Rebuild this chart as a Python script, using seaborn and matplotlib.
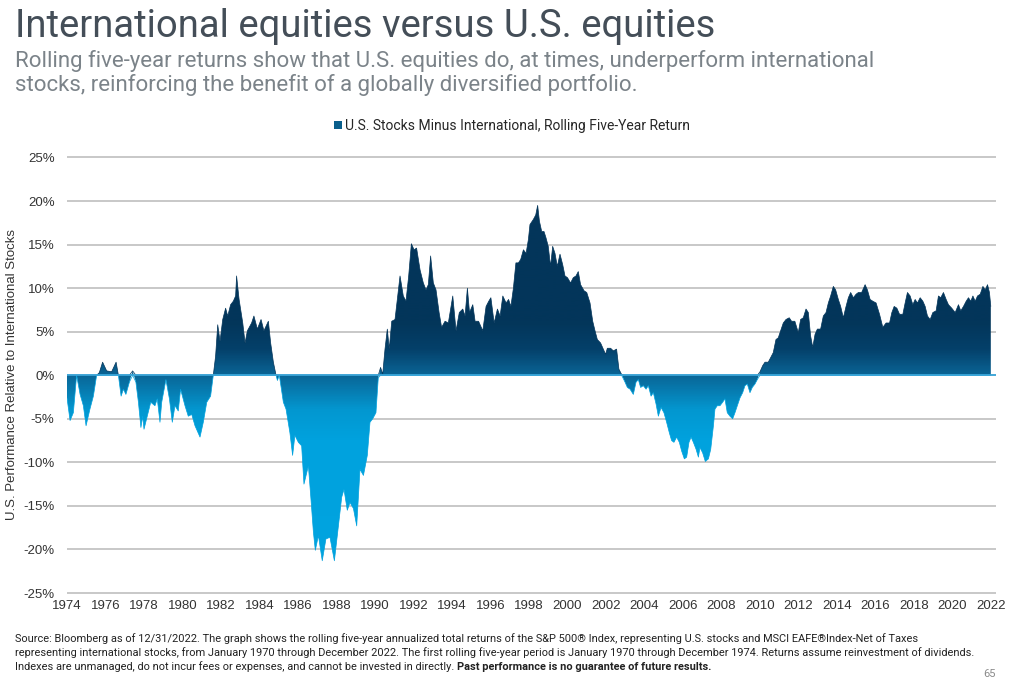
import numpy as np
import pandas as pd
import matplotlib
matplotlib.use("Agg")
import matplotlib.pyplot as plt
import seaborn as sns
from matplotlib.colors import LinearSegmentedColormap, Normalize
from matplotlib.patches import Polygon, Patch
from matplotlib.ticker import FuncFormatter

# Rolling five-year return, U.S. minus international (%)
dates = [
    1974.00, 1974.16, 1974.33, 1974.50, 1974.68, 1974.85, 1974.99, 1975.19, 1975.37, 1975.54,
    1975.68, 1975.85, 1976.06, 1976.32, 1976.55, 1976.67, 1976.81, 1976.93, 1977.06, 1977.24,
    1977.41, 1977.58, 1977.71, 1977.84, 1977.93, 1978.00, 1978.17, 1978.35, 1978.57, 1978.69,
    1978.83, 1978.92, 1979.14, 1979.32, 1979.47, 1979.61, 1979.78, 1979.90, 1980.13, 1980.30,
    1980.48, 1980.65, 1980.91, 1981.08, 1981.26, 1981.46, 1981.60, 1981.72, 1981.83, 1981.95,
    1982.09, 1982.24, 1982.35, 1982.50, 1982.64, 1982.76, 1982.81, 1982.94, 1983.13, 1983.25,
    1983.37, 1983.59, 1983.71, 1983.89, 1984.08, 1984.23, 1984.46, 1984.58, 1984.72, 1984.86,
    1984.93, 1985.03, 1985.24, 1985.38, 1985.58, 1985.72, 1985.84, 1986.02, 1986.19, 1986.31,
    1986.54, 1986.68, 1986.80, 1986.90, 1987.06, 1987.26, 1987.45, 1987.66, 1987.89, 1988.10,
    1988.27, 1988.39, 1988.56, 1988.70, 1988.88, 1989.05, 1989.22, 1989.40, 1989.60, 1989.74,
    1989.88, 1990.05, 1990.17, 1990.29, 1990.40, 1990.52, 1990.64, 1990.74, 1990.87, 1991.04,
    1991.16, 1991.30, 1991.47, 1991.61, 1991.75, 1991.89, 1992.03, 1992.16, 1992.34, 1992.51,
    1992.65, 1992.77, 1992.89, 1993.03, 1993.17, 1993.33, 1993.46, 1993.64, 1993.81, 1994.04,
    1994.21, 1994.38, 1994.56, 1994.68, 1994.80, 1994.91, 1995.08, 1995.20, 1995.38, 1995.60,
    1995.77, 1995.91, 1996.02, 1996.19, 1996.36, 1996.50, 1996.64, 1996.81, 1996.94, 1997.06,
    1997.19, 1997.32, 1997.45, 1997.57, 1997.71, 1997.85, 1997.97, 1998.05, 1998.23, 1998.35,
    1998.45, 1998.54, 1998.66, 1998.78, 1998.88, 1999.00, 1999.12, 1999.23, 1999.35, 1999.47,
    1999.61, 1999.75, 1999.87, 2000.00, 2000.16, 2000.30, 2000.44, 2000.56, 2000.68, 2000.86,
    2001.00, 2001.17, 2001.31, 2001.43, 2001.55, 2001.72, 2001.86, 2001.98, 2002.07, 2002.24,
    2002.38, 2002.55, 2002.67, 2002.81, 2002.99, 2003.11, 2003.25, 2003.42, 2003.56, 2003.68,
    2003.80, 2003.94, 2004.08, 2004.20, 2004.34, 2004.46, 2004.60, 2004.72, 2004.86, 2005.01,
    2005.15, 2005.29, 2005.41, 2005.53, 2005.67, 2005.81, 2005.93, 2006.07, 2006.19, 2006.31,
    2006.42, 2006.54, 2006.68, 2006.80, 2006.88, 2007.02, 2007.16, 2007.32, 2007.44, 2007.58,
    2007.66, 2007.78, 2007.92, 2008.06, 2008.18, 2008.30, 2008.44, 2008.58, 2008.70, 2008.82,
    2008.96, 2009.10, 2009.22, 2009.34, 2009.48, 2009.60, 2009.74, 2009.86, 2010.00, 2010.14,
    2010.26, 2010.43, 2010.55, 2010.69, 2010.83, 2010.95, 2011.07, 2011.21, 2011.35, 2011.52,
    2011.64, 2011.81, 2011.99, 2012.11, 2012.25, 2012.39, 2012.51, 2012.63, 2012.74, 2012.86,
    2012.98, 2013.15, 2013.29, 2013.43, 2013.55, 2013.67, 2013.81, 2013.93, 2014.07, 2014.19,
    2014.33, 2014.47, 2014.59, 2014.71, 2014.85, 2014.99, 2015.11, 2015.28, 2015.46, 2015.58,
    2015.72, 2015.86, 2016.03, 2016.21, 2016.38, 2016.55, 2016.73, 2016.85, 2016.97, 2017.11,
    2017.25, 2017.42, 2017.54, 2017.66, 2017.80, 2017.94, 2018.06, 2018.18, 2018.32, 2018.46,
    2018.58, 2018.70, 2018.84, 2018.98, 2019.15, 2019.27, 2019.39, 2019.53, 2019.67, 2019.79,
    2019.96, 2020.14, 2020.31, 2020.43, 2020.57, 2020.71, 2020.83, 2020.95, 2021.06, 2021.18,
    2021.30, 2021.44, 2021.58, 2021.70, 2021.82, 2021.92, 2021.99,
]
spread = [
    -2.6, -5.2, -4.3, 0.0, -2.2, -3.5, -5.8, -3.9, -2.4, 0.0,
    0.3, 1.5, 0.5, 0.4, 1.5, 0.0, -2.4, -1.6, -2.2, -0.8,
    0.5, -0.8, -3.1, -6.0, -4.7, -6.2, -4.7, -3.1, -3.5, -2.7,
    -5.4, -3.1, -0.5, -2.7, -5.4, -3.5, -4.1, -1.6, -3.5, -4.7,
    -4.5, -5.8, -7.1, -5.4, -3.1, -2.4, 0.0, 2.2, 5.8, 3.9,
    6.4, 7.7, 6.8, 8.1, 8.5, 9.1, 11.4, 8.7, 6.0, 3.7,
    5.1, 6.0, 6.8, 5.3, 6.4, 5.1, 6.2, 3.7, 1.5, 0.0,
    -0.6, 0.0, -3.1, -3.9, -6.6, -9.2, -6.9, -7.7, -8.1, -12.5,
    -10.4, -14.4, -18.0, -20.1, -18.4, -21.3, -18.8, -18.6, -21.3, -17.3,
    -14.0, -13.1, -15.5, -14.6, -15.3, -17.3, -10.8, -11.5, -9.2, -5.4,
    -5.0, -4.3, -0.3, 0.9, 0.1, 3.0, 5.3, 3.0, 6.2, 6.4,
    8.7, 11.4, 9.1, 8.5, 11.4, 15.1, 14.4, 14.6, 12.1, 10.6,
    9.8, 10.4, 13.7, 10.6, 9.8, 7.2, 5.5, 6.2, 6.0, 9.1,
    5.1, 7.2, 7.6, 6.8, 10.0, 7.2, 8.1, 6.2, 6.2, 5.1,
    7.9, 8.5, 8.9, 6.0, 7.6, 6.8, 9.1, 8.3, 8.7, 7.9,
    10.0, 12.9, 12.9, 13.3, 14.4, 14.0, 15.6, 17.3, 17.9, 18.4,
    19.5, 17.7, 16.5, 16.5, 15.8, 14.8, 12.5, 14.8, 14.0, 12.5,
    13.9, 12.7, 11.4, 11.2, 10.6, 11.2, 11.4, 11.9, 10.4, 9.7,
    9.5, 8.3, 6.2, 5.1, 4.1, 3.7, 3.0, 2.4, 3.1, 3.1,
    2.8, 3.0, 0.7, 0.1, -0.8, -1.4, -1.6, -2.2, -0.8, -0.5,
    -1.4, -1.2, -1.6, -1.2, -2.4, -2.0, -3.3, -4.7, -3.7, -4.3,
    -5.4, -6.6, -7.5, -7.7, -7.1, -7.7, -8.7, -9.6, -9.4, -7.7,
    -7.1, -7.7, -8.5, -9.4, -8.3, -8.9, -9.9, -9.6, -8.5, -5.8,
    -3.9, -3.5, -3.5, -3.1, -2.7, -4.3, -4.7, -5.0, -4.3, -3.5,
    -2.6, -2.0, -1.2, -1.0, -2.0, -1.4, -1.0, -0.5, 0.4, 1.1,
    1.5, 1.5, 2.0, 2.6, 4.1, 4.3, 5.1, 6.0, 6.4, 6.6,
    6.2, 6.2, 4.9, 6.4, 6.6, 7.6, 7.2, 4.5, 3.2, 4.7,
    5.3, 5.3, 6.8, 7.2, 8.3, 9.1, 10.2, 9.8, 8.7, 7.9,
    6.6, 7.9, 8.9, 9.5, 8.9, 9.3, 9.5, 9.5, 10.4, 9.8,
    8.7, 8.5, 8.3, 7.0, 5.5, 6.0, 6.0, 7.2, 7.9, 7.7,
    7.0, 7.0, 8.3, 9.5, 9.1, 8.1, 8.7, 8.3, 8.9, 8.5,
    7.9, 6.8, 6.4, 7.2, 7.4, 9.1, 8.9, 9.5, 8.7, 8.1,
    7.7, 7.2, 8.1, 7.4, 7.9, 8.5, 8.9, 8.5, 9.1, 8.5,
    9.1, 9.3, 10.2, 9.8, 10.4, 9.5, 7.9,
]
year_ticks = list(range(1974, 2023, 2))
pct_ticks = list(range(-25, 30, 5))

df = pd.DataFrame({"date": dates, "spread": spread})

sns.set_style("white")
plt.rcParams["font.family"] = ["Liberation Sans", "DejaVu Sans"]
narrow = ["Liberation Sans Narrow", "Roboto", "DejaVu Sans"]

fig = plt.figure(figsize=(10.24, 6.86), dpi=100)
ax = fig.add_axes([67 / 1024, 1 - 594.5 / 686, 929 / 1024, 438.5 / 686])

x = df["date"].to_numpy()
y = df["spread"].to_numpy()
x_end = 1974 + 929 / 19.25

# gradient fill clipped to the area between the series and zero
cmap = LinearSegmentedColormap.from_list("fill", [
    (0.0, "#00a4e0"), (0.35, "#00a2de"), (0.42, "#0397d0"), (0.5, "#0a6596"),
    (0.56, "#04406a"), (0.62, "#03365a"), (1.0, "#03355a")])
verts = np.column_stack([np.r_[x, x[::-1]], np.r_[y, np.zeros_like(y)]])
clip = Polygon(verts, closed=True, transform=ax.transData, facecolor="none", edgecolor="none")
ax.add_patch(clip)
grad = np.linspace(25, -25, 600).reshape(-1, 1)
im = ax.imshow(grad, extent=[1974, x_end, -25, 25], aspect="auto", cmap=cmap,
               norm=Normalize(-25, 25), zorder=2, interpolation="bilinear")
im.set_clip_path(clip)

# thin edges of the area
sns.lineplot(x=x, y=np.clip(y, 0, None), color="#03355a", lw=0.5, ax=ax, zorder=3)
sns.lineplot(x=x, y=np.clip(y, None, 0), color="#00a2de", lw=0.5, ax=ax, zorder=3)
ax.axhline(0, color="#3aa6da", lw=1.3, zorder=4)

ax.set_xlim(1974, x_end)
ax.set_ylim(-25.17, 25.17)
ax.set_xticks(year_ticks)
ax.set_yticks(pct_ticks)
ax.yaxis.set_major_formatter(FuncFormatter(lambda v, p: f"{int(v)}%"))
ax.yaxis.grid(True, color="#c4c4c4", lw=1.3)
ax.xaxis.grid(False)
ax.set_axisbelow(True)
for s in ax.spines.values():
    s.set_visible(False)
ax.tick_params(axis="y", length=0, labelsize=9.5, labelcolor="#333333", pad=9)
ax.tick_params(axis="x", length=0, labelsize=9.5, labelcolor="#333333", pad=4)
ax.set_xlabel("")
ax.set_ylabel("")

fig.text(12 / 1024, 1 - 375 / 686, "U.S. Performance Relative to International Stocks",
         rotation=90, ha="center", va="center", fontsize=9.5, color="#333333")

# header
fig.text(15 / 1024, 1 - 37 / 686, "International equities versus U.S. equities",
         family=narrow, fontsize=27.5, color="#444e58", va="baseline")
fig.text(15 / 1024, 1 - 67 / 686,
         "Rolling five-year returns show that U.S. equities do, at times, underperform international",
         family=narrow, fontsize=16, color="#7b8389", va="baseline")
fig.text(15 / 1024, 1 - 91 / 686,
         "stocks, reinforcing the benefit of a globally diversified portfolio.",
         family=narrow, fontsize=16, color="#7b8389", va="baseline")

fig.legend(handles=[Patch(facecolor="#0a5f8c", edgecolor="none",
                          label="U.S. Stocks Minus International, Rolling Five-Year Return")],
           loc="center", bbox_to_anchor=(512 / 1024, 1 - 126 / 686), frameon=False,
           handlelength=0.55, handleheight=0.55, handletextpad=0.25,
           prop=dict(family=narrow, size=10))

# footnote
foot = dict(family=narrow, fontsize=7.9, color="#222222", va="baseline")
fig.text(15 / 1024, 1 - 642 / 686,
         "Source: Bloomberg as of 12/31/2022. The graph shows the rolling five-year annualized total returns "
         "of the S&P 500\u00ae Index, representing U.S. stocks and MSCI EAFE\u00aeIndex-Net of Taxes", **foot)
fig.text(15 / 1024, 1 - 656 / 686,
         "representing international stocks, from January 1970 through December 2022. The first rolling "
         "five-year period is January 1970 through December 1974. Returns assume reinvestment of dividends.", **foot)
t3 = fig.text(15 / 1024, 1 - 670 / 686,
              "Indexes are unmanaged, do not incur fees or expenses, and cannot be invested in directly. ", **foot)
ax.annotate("Past performance is no guarantee of future results.", xy=(1, 0), xycoords=t3,
            ha="left", va="bottom", family=narrow, fontsize=7.9, color="#222222", fontweight="bold")
fig.text(983 / 1024, 1 - 677 / 686, "65", family=narrow, fontsize=8, color="#8a8a8a", va="baseline")

fig.savefig("out.png", dpi=100)
